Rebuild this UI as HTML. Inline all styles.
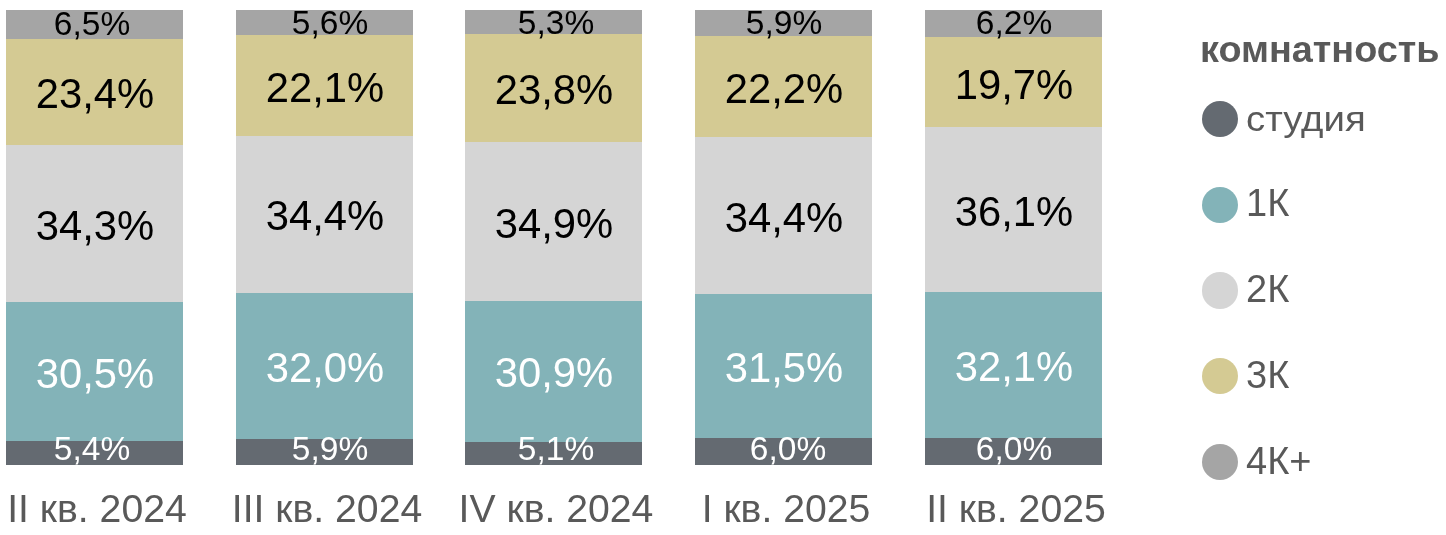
<!DOCTYPE html>
<html><head><meta charset="utf-8"><style>
html,body{margin:0;padding:0;background:#fff;width:1446px;height:535px;overflow:hidden;position:relative}
.b{position:absolute}
.c{position:absolute;border-radius:50%}
.t{position:absolute;will-change:transform;font-family:"Liberation Sans",sans-serif;line-height:1;white-space:nowrap;text-align:center}
</style></head><body>
<div class="b" style="left:6px;top:10px;width:177.3px;height:454.60px;background:#A5A5A5"></div><div class="b" style="left:6px;top:39.1px;width:177.3px;height:425.50px;background:#D4CA93"></div><div class="b" style="left:6px;top:145.2px;width:177.3px;height:319.40px;background:#D5D5D5"></div><div class="b" style="left:6px;top:302.3px;width:177.3px;height:162.30px;background:#83B3B8"></div><div class="b" style="left:6px;top:440.5px;width:177.3px;height:24.10px;background:#646A71"></div><div class="b" style="left:235.7px;top:10px;width:177.3px;height:454.60px;background:#A5A5A5"></div><div class="b" style="left:235.7px;top:35.2px;width:177.3px;height:429.40px;background:#D4CA93"></div><div class="b" style="left:235.7px;top:135.6px;width:177.3px;height:329.00px;background:#D5D5D5"></div><div class="b" style="left:235.7px;top:292.6px;width:177.3px;height:172.00px;background:#83B3B8"></div><div class="b" style="left:235.7px;top:438.8px;width:177.3px;height:25.80px;background:#646A71"></div><div class="b" style="left:465px;top:10px;width:177.3px;height:454.60px;background:#A5A5A5"></div><div class="b" style="left:465px;top:33.8px;width:177.3px;height:430.80px;background:#D4CA93"></div><div class="b" style="left:465px;top:141.9px;width:177.3px;height:322.70px;background:#D5D5D5"></div><div class="b" style="left:465px;top:300.9px;width:177.3px;height:163.70px;background:#83B3B8"></div><div class="b" style="left:465px;top:441.7px;width:177.3px;height:22.90px;background:#646A71"></div><div class="b" style="left:694.8px;top:10px;width:177.3px;height:454.60px;background:#A5A5A5"></div><div class="b" style="left:694.8px;top:36.0px;width:177.3px;height:428.60px;background:#D4CA93"></div><div class="b" style="left:694.8px;top:137.1px;width:177.3px;height:327.50px;background:#D5D5D5"></div><div class="b" style="left:694.8px;top:294.1px;width:177.3px;height:170.50px;background:#83B3B8"></div><div class="b" style="left:694.8px;top:437.6px;width:177.3px;height:27.00px;background:#646A71"></div><div class="b" style="left:924.6px;top:10px;width:177.3px;height:454.60px;background:#A5A5A5"></div><div class="b" style="left:924.6px;top:37.4px;width:177.3px;height:427.20px;background:#D4CA93"></div><div class="b" style="left:924.6px;top:127.3px;width:177.3px;height:337.30px;background:#D5D5D5"></div><div class="b" style="left:924.6px;top:291.8px;width:177.3px;height:172.80px;background:#83B3B8"></div><div class="b" style="left:924.6px;top:437.6px;width:177.3px;height:27.00px;background:#646A71"></div><div class="t" style="left:-57.90px;top:7.04px;width:300px;font-size:33.5px;color:#000">6,5%</div><div class="t" style="left:-54.85px;top:73.33px;width:300px;font-size:41.8px;color:#000">23,4%</div><div class="t" style="left:-54.85px;top:204.93px;width:300px;font-size:41.8px;color:#000">34,3%</div><div class="t" style="left:-54.85px;top:352.58px;width:300px;font-size:41.8px;color:#fff">30,5%</div><div class="t" style="left:-57.90px;top:431.74px;width:300px;font-size:33.5px;color:#fff">5,4%</div><div class="t" style="left:-52.65px;top:488.82px;width:300px;font-size:39.2px;color:#595959">II кв. 2024</div><div class="t" style="left:179.80px;top:6.24px;width:300px;font-size:33.5px;color:#000">5,6%</div><div class="t" style="left:174.85px;top:66.58px;width:300px;font-size:41.8px;color:#000">22,1%</div><div class="t" style="left:174.85px;top:195.28px;width:300px;font-size:41.8px;color:#000">34,4%</div><div class="t" style="left:174.85px;top:346.88px;width:300px;font-size:41.8px;color:#fff">32,0%</div><div class="t" style="left:179.80px;top:431.64px;width:300px;font-size:33.5px;color:#fff">5,9%</div><div class="t" style="left:177.05px;top:488.82px;width:300px;font-size:39.2px;color:#595959">III кв. 2024</div><div class="t" style="left:406.10px;top:6.24px;width:300px;font-size:33.5px;color:#000">5,3%</div><div class="t" style="left:404.15px;top:69.03px;width:300px;font-size:41.8px;color:#000">23,8%</div><div class="t" style="left:404.15px;top:202.58px;width:300px;font-size:41.8px;color:#000">34,9%</div><div class="t" style="left:404.15px;top:352.48px;width:300px;font-size:41.8px;color:#fff">30,9%</div><div class="t" style="left:406.00px;top:431.64px;width:300px;font-size:33.5px;color:#fff">5,1%</div><div class="t" style="left:406.35px;top:488.82px;width:300px;font-size:39.2px;color:#595959">IV кв. 2024</div><div class="t" style="left:634.20px;top:6.24px;width:300px;font-size:33.5px;color:#000">5,9%</div><div class="t" style="left:633.95px;top:67.73px;width:300px;font-size:41.8px;color:#000">22,2%</div><div class="t" style="left:633.95px;top:196.78px;width:300px;font-size:41.8px;color:#000">34,4%</div><div class="t" style="left:633.95px;top:347.03px;width:300px;font-size:41.8px;color:#fff">31,5%</div><div class="t" style="left:637.50px;top:431.64px;width:300px;font-size:33.5px;color:#fff">6,0%</div><div class="t" style="left:636.15px;top:488.82px;width:300px;font-size:39.2px;color:#595959">I кв. 2025</div><div class="t" style="left:863.70px;top:6.24px;width:300px;font-size:33.5px;color:#000">6,2%</div><div class="t" style="left:863.75px;top:63.53px;width:300px;font-size:41.8px;color:#000">19,7%</div><div class="t" style="left:863.75px;top:190.73px;width:300px;font-size:41.8px;color:#000">36,1%</div><div class="t" style="left:863.75px;top:345.88px;width:300px;font-size:41.8px;color:#fff">32,1%</div><div class="t" style="left:863.70px;top:431.64px;width:300px;font-size:33.5px;color:#fff">6,0%</div><div class="t" style="left:865.95px;top:488.82px;width:300px;font-size:39.2px;color:#595959">II кв. 2025</div>
<div class="t" style="left:1199.5px;top:31.20px;font-size:37.8px;font-weight:bold;color:#595959;text-align:left">комнатность</div><div class="c" style="left:1201.50px;top:100.60px;width:36.2px;height:36.2px;background:#646A71"></div><div class="t" style="left:1246px;top:100.77px;font-size:35px;color:#595959;text-align:left;transform:scaleX(1.096);transform-origin:0 0">студия</div><div class="c" style="left:1201.50px;top:186.50px;width:36.2px;height:36.2px;background:#83B3B8"></div><div class="t" style="left:1246px;top:184.13px;font-size:38px;color:#595959;text-align:left">1К</div><div class="c" style="left:1201.50px;top:272.40px;width:36.2px;height:36.2px;background:#D5D5D5"></div><div class="t" style="left:1246px;top:270.03px;font-size:38px;color:#595959;text-align:left">2К</div><div class="c" style="left:1201.50px;top:358.30px;width:36.2px;height:36.2px;background:#D4CA93"></div><div class="t" style="left:1246px;top:355.93px;font-size:38px;color:#595959;text-align:left">3К</div><div class="c" style="left:1201.50px;top:444.20px;width:36.2px;height:36.2px;background:#A5A5A5"></div><div class="t" style="left:1246px;top:441.83px;font-size:38px;color:#595959;text-align:left">4К+</div>
</body></html>
